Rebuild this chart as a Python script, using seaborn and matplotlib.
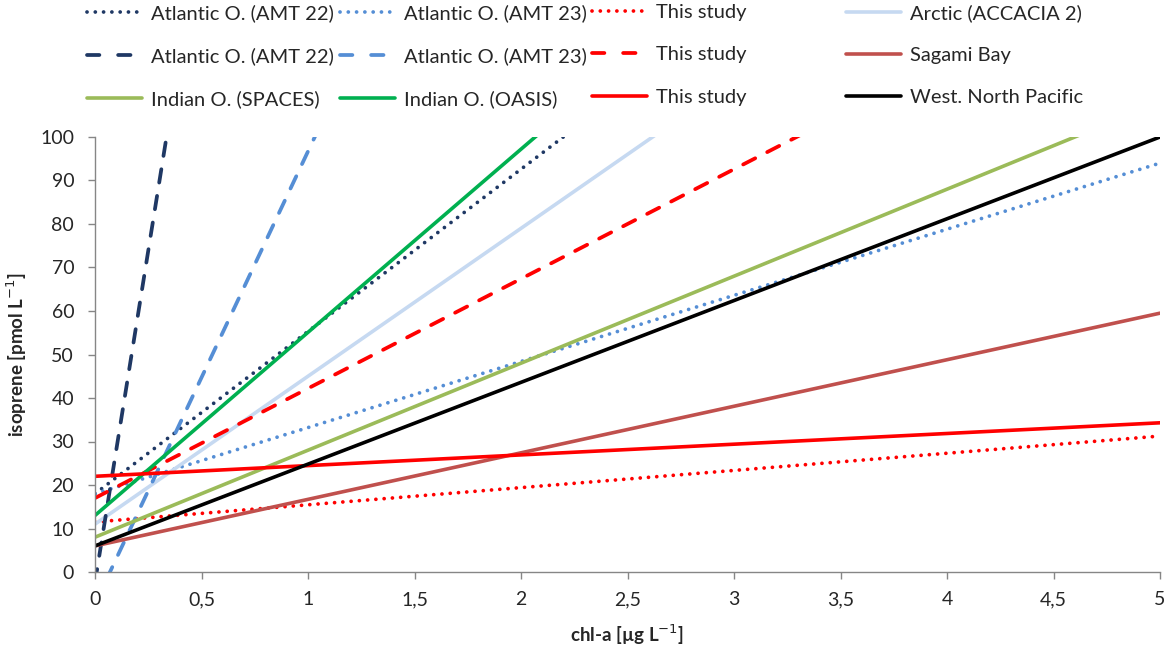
import numpy as np
import pandas as pd
import matplotlib
matplotlib.use('Agg')
import matplotlib.pyplot as plt
from matplotlib.lines import Line2D
import seaborn as sns

# regression lines: isoprene = intercept + slope * chl-a
labels = ['Atlantic O. (AMT 22)', 'Atlantic O. (AMT 23)', 'This study', 'Arctic (ACCACIA 2)',
          'Atlantic O. (AMT 22)', 'Atlantic O. (AMT 23)', 'This study', 'Sagami Bay',
          'Indian O. (SPACES)', 'Indian O. (OASIS)', 'This study', 'West. North Pacific']
intercepts = [18.0, 18.0, 11.5, 11.0, -2.4, -7.3, 17.0, 6.0, 8.0, 13.0, 22.0, 6.0]
slopes = [37.3, 15.2, 3.95, 34.0, 305.0, 104.0, 25.2, 10.7, 20.0, 42.1, 2.46, 18.8]
colors = ['#1F3864', '#558ED5', '#FF0000', '#C6D9F1',
          '#1F3864', '#558ED5', '#FF0000', '#C0504D',
          '#9BBB59', '#00B050', '#FF0000', '#000000']
styles = ['dot', 'dot', 'dot', 'solid',
          'dash', 'dash', 'dash', 'solid',
          'solid', 'solid', 'solid', 'solid']

x_ticks = [0, 0.5, 1, 1.5, 2, 2.5, 3, 3.5, 4, 4.5, 5]
x_tick_labels = ['0', '0,5', '1', '1,5', '2', '2,5', '3', '3,5', '4', '4,5', '5']
y_ticks = [0, 10, 20, 30, 40, 50, 60, 70, 80, 90, 100]

sns.set_theme(style='white')
plt.rcParams['font.family'] = ['Lato', 'DejaVu Sans']

fig = plt.figure(figsize=(11.72, 6.5), dpi=100)
ax = fig.add_axes([95 / 1172, 1 - 572 / 650, (1160 - 95) / 1172, (572 - 137) / 650])

line_kw = {
    'dot': dict(linestyle=(0, (0.01, 2.2)), dash_capstyle='round', linewidth=2.7),
    'dash': dict(linestyle=(0, (3.6, 3.6)), dash_capstyle='round', linewidth=2.7),
    'solid': dict(linestyle='-', linewidth=2.6),
}

handles = []
xs = np.array([0.0, 5.0])
for lab, a, b, c, s in zip(labels, intercepts, slopes, colors, styles):
    df = pd.DataFrame({'chl': xs, 'iso': a + b * xs})
    sns.lineplot(data=df, x='chl', y='iso', color=c, ax=ax, legend=False, **line_kw[s])
    if s == 'dash':
        # legend sample shows two clean dashes, like the original
        handles.append(Line2D([], [], color=c, linewidth=2.7, linestyle=(0, (3.3, 5.0)),
                              dash_capstyle='round'))
    else:
        handles.append(ax.lines[-1])

ax.set_xlim(0, 5)
ax.set_ylim(0, 100)
ax.set_xticks(x_ticks)
ax.set_xticklabels(x_tick_labels)
ax.set_yticks(y_ticks)
ax.tick_params(axis='both', direction='out', length=5, width=1, color='#868686',
               labelsize=14, labelcolor='#262626', bottom=True, left=True)
ax.tick_params(axis='x', pad=9)
ax.tick_params(axis='y', pad=10)
for side in ['top', 'right']:
    ax.spines[side].set_visible(False)
for side in ['left', 'bottom']:
    ax.spines[side].set_color('#868686')
    ax.spines[side].set_linewidth(1)

ax.set_xlabel('chl-a [µg L$^{-1}$]', fontsize=13.5, fontweight='bold', labelpad=10)
ax.set_ylabel('isoprene [pmol L$^{-1}$]', fontsize=13.5, fontweight='bold', labelpad=8)

# legend: four columns of three rows, placed like the original grid
col_x = [87, 340, 592, 846]
for i, x0 in enumerate(col_x):
    idx = [i, i + 4, i + 8]
    fig.legend([handles[k] for k in idx], [labels[k] for k in idx],
               loc='upper left', bbox_to_anchor=(x0 / 1172, 1 - 4 / 650),
               frameon=False, fontsize=14.5, handlelength=2.75, handletextpad=0.45,
               labelspacing=1.25, borderpad=0, borderaxespad=0)

fig.savefig('out.png', dpi=100)
